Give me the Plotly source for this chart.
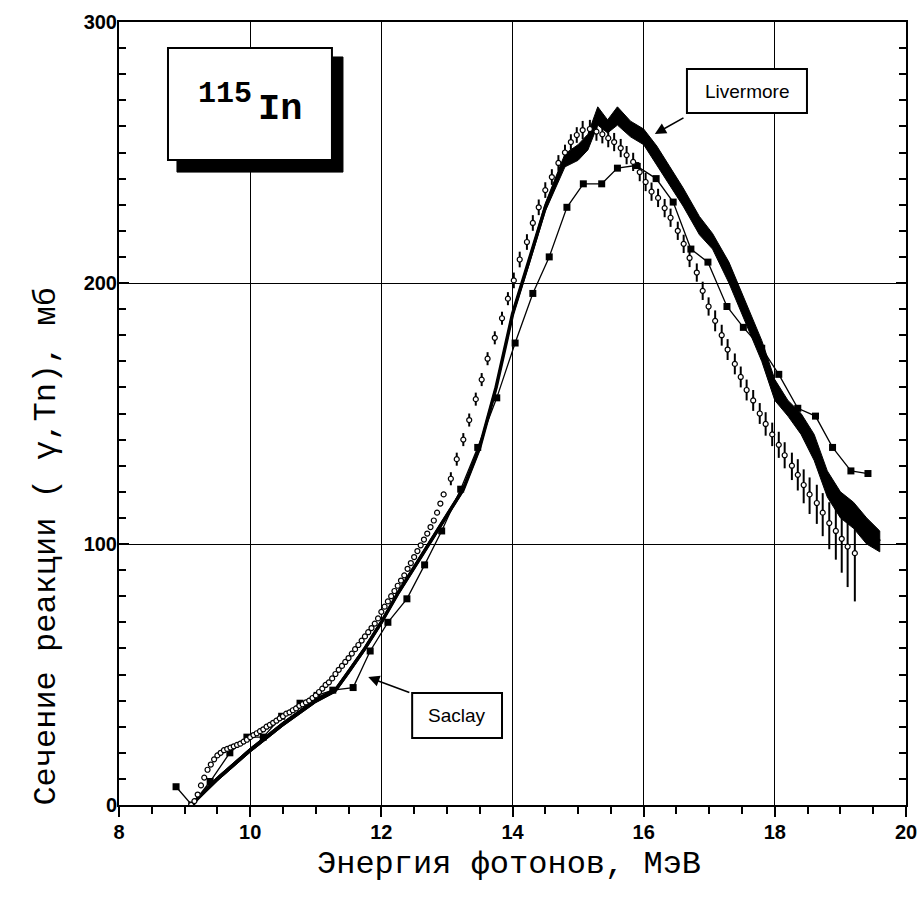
import plotly.graph_objects as go

# ---------------- data ----------------
# dense open-circle data (no visible error bars)
dense_E = [9.10, 9.15, 9.20, 9.25, 9.30, 9.35, 9.40, 9.45, 9.50, 9.55, 9.60, 9.65, 9.70, 9.75, 9.80,
           9.85, 9.90, 9.95, 10.00, 10.05, 10.10, 10.15, 10.20, 10.25, 10.30, 10.35, 10.40, 10.45,
           10.50, 10.55, 10.60, 10.65, 10.70, 10.75, 10.80, 10.85, 10.90, 10.95, 11.00, 11.05, 11.10,
           11.15, 11.20, 11.25, 11.30, 11.35, 11.40, 11.45, 11.50, 11.55, 11.60, 11.65, 11.70, 11.75,
           11.80, 11.85, 11.90, 11.95, 12.00, 12.05, 12.10, 12.15, 12.20, 12.25, 12.30, 12.35, 12.40,
           12.45, 12.50, 12.55, 12.60, 12.65, 12.70, 12.75, 12.80, 12.85, 12.90, 12.95]
dense_y = [0, 1.5, 4, 7.5, 10.5, 13.5, 15.5, 17.5, 19, 20, 21, 21.5, 22, 22.5, 23,
           23.5, 24.3, 25, 26, 26.8, 27.5, 28.3, 29, 30, 30.7, 31.5, 32.3, 33.2,
           34, 35, 35.5, 36.3, 37, 38, 38.6, 39.3, 40, 41, 42, 43.3, 44.6,
           46, 47, 48.5, 50.2, 51.8, 53.3, 54.8, 56.3, 58, 59.7, 61.3, 63, 64.6,
           66.2, 67.8, 69.5, 71.5, 74, 76, 78, 80, 82, 84, 86, 88, 90.5,
           92.7, 95, 97.3, 99.5, 101.7, 104, 106.5, 109, 112, 115.5, 119]

# open-circle data with error bars
circ_E = [13.06, 13.15, 13.25, 13.34, 13.44, 13.53, 13.62, 13.73, 13.84, 13.93, 14.02, 14.11, 14.22,
          14.31, 14.40, 14.50, 14.60, 14.70, 14.80, 14.89, 14.98, 15.07, 15.18, 15.28, 15.37, 15.46,
          15.55, 15.65, 15.74, 15.84, 15.94, 16.03, 16.12, 16.22, 16.32, 16.41, 16.52, 16.61, 16.70,
          16.81, 16.90, 16.99, 17.09, 17.19, 17.28, 17.39, 17.48, 17.57, 17.67, 17.77, 17.86, 17.96,
          18.06, 18.15, 18.26, 18.35, 18.44, 18.53, 18.64, 18.73, 18.83, 18.93, 19.02, 19.11, 19.22]
circ_y = [125, 132.5, 140, 147.5, 155.5, 163, 171, 179, 186.5, 194, 201, 209, 215.7,
          223, 229, 235.6, 240.6, 246, 250, 254, 256.7, 258.6, 259, 258, 257, 255.5,
          254, 251.7, 249, 246.4, 242.5, 238.7, 235, 232.6, 228.7, 225, 220, 215, 209.6,
          204, 197, 191, 185.5, 180, 174.5, 169, 164, 159, 155, 150, 146, 142,
          138, 134, 130, 126.5, 122.6, 119, 115.7, 112, 108, 105, 102, 99, 96.5]
circ_err_plus = [2.5, 2.5, 2.5, 2.5, 2.5, 2.5, 2.5, 2.5, 2.5, 2.5, 3, 3, 3,
                 3, 3, 3, 3, 3, 3, 3, 3, 3.5, 3.5, 3.5, 3.5, 3.5,
                 3.5, 3.5, 3.5, 3.5, 3.5, 3.5, 3.5, 3.5, 3.5, 3.5, 3.5, 3.5, 3.5,
                 3.5, 3.5, 3.5, 4, 4, 4, 4, 4, 4, 4, 4, 4.5, 4.5,
                 5, 5, 5, 6, 6, 6.5, 7, 7.5, 8, 8.5, 8, 9, 10]
circ_err_minus = [2.5, 2.5, 2.5, 2.5, 2.5, 2.5, 2.5, 2.5, 2.5, 2.5, 3, 3, 3,
                  3, 3, 3, 3, 3, 3, 3, 3, 3.5, 3.5, 3.5, 3.5, 3.5,
                  3.5, 3.5, 3.5, 3.5, 3.5, 3.5, 3.5, 3.5, 3.5, 3.5, 3.5, 3.5, 3.5,
                  3.5, 3.5, 3.5, 4, 4, 4, 4, 4, 4, 4, 4, 4.5, 4.5,
                  5, 5, 5.5, 6, 7, 7.5, 8, 9, 10, 11, 13, 15.5, 18.5]

# Saclay (filled squares)
sac_E = [8.87, 9.11, 9.39, 9.69, 9.95, 10.20, 10.48, 10.76, 11.02, 11.26, 11.57, 11.83, 12.10, 12.39,
         12.66, 12.92, 13.21, 13.47, 13.76, 14.04, 14.31, 14.56, 14.83, 15.08, 15.36, 15.60, 15.88,
         16.19, 16.45, 16.72, 16.98, 17.27, 17.52, 17.80, 18.06, 18.35, 18.62, 18.88, 19.16, 19.42]
sac_y = [7, 0, 9, 20, 26, 26, 34, 39, 42, 44, 45, 59, 70, 79,
         92, 105, 121, 137, 156, 177, 196, 210, 229, 238, 238, 244, 245,
         240, 231, 213, 208, 191, 183, 175, 165, 152, 149, 137, 128, 127]

# Livermore (band: value +/- error)
liv_E = [9.10, 9.50, 10.00, 10.50, 11.00, 11.30, 11.50, 11.75, 12.00, 12.25, 12.50, 12.75, 13.00,
         13.25, 13.50, 13.75, 14.00, 14.25, 14.50, 14.80, 15.00, 15.15, 15.30, 15.45, 15.60, 15.80,
         16.00, 16.20, 16.40, 16.60, 16.85, 17.05, 17.30, 17.55, 17.80, 18.00, 18.20, 18.40, 18.60,
         18.80, 19.00, 19.20, 19.40, 19.60]
liv_y = [0, 10, 21, 31, 40, 44, 51, 60, 70, 81, 91, 101, 111,
         121, 137, 160, 188, 208, 229, 247, 250, 254, 264, 260, 264, 259,
         256, 249, 241, 233, 222, 216, 204, 189, 174, 159, 152, 146, 137,
         123, 115, 111, 105, 101]
liv_err = [0.5, 0.8, 0.8, 0.8, 0.8, 0.8, 0.8, 0.8, 0.8, 0.8, 0.8, 0.8, 0.8,
           0.8, 1, 1, 1, 1.2, 1.5, 2.5, 3, 3, 3.5, 2.5, 3.5, 3,
           3, 3.5, 3.5, 3.5, 3.5, 3, 4, 4, 4, 4, 3, 4, 5,
           5, 5, 5, 5, 4]

x_ticks = [8, 10, 12, 14, 16, 18, 20]
y_ticks = [0, 100, 200, 300]

# ---------------- figure ----------------
fig = go.Figure()

liv_up = [v + e for v, e in zip(liv_y, liv_err)]
liv_lo = [v - e for v, e in zip(liv_y, liv_err)]
fig.add_trace(go.Scatter(x=liv_E + liv_E[::-1], y=liv_up + liv_lo[::-1], fill="toself",
                         fillcolor="black", line=dict(color="black", width=1),
                         mode="lines", hoverinfo="skip", showlegend=False))
fig.add_trace(go.Scatter(x=liv_E, y=liv_y, mode="lines", line=dict(color="black", width=3.5),
                         showlegend=False, name="Livermore"))

fig.add_trace(go.Scatter(x=sac_E, y=sac_y, mode="lines+markers", name="Saclay",
                         line=dict(color="black", width=1.3),
                         marker=dict(symbol="square", size=7, color="black"),
                         showlegend=False))

fig.add_trace(go.Scatter(x=dense_E, y=dense_y, mode="markers",
                         marker=dict(symbol="circle", size=5, color="white",
                                     line=dict(color="black", width=1.2)),
                         showlegend=False))
fig.add_trace(go.Scatter(x=circ_E, y=circ_y, mode="markers",
                         error_y=dict(type="data", symmetric=False, array=circ_err_plus,
                                      arrayminus=circ_err_minus, color="black",
                                      thickness=2, width=0),
                         marker=dict(symbol="circle", size=5, color="white",
                                     line=dict(color="black", width=1.2)),
                         showlegend=False))

shapes = [
    # 115In label box with shadow
    dict(type="rect", xref="x", yref="y", x0=8.884, x1=11.415, y0=242.5, y1=286.6,
         fillcolor="black", line=dict(color="black", width=1), layer="above"),
    dict(type="rect", xref="x", yref="y", x0=8.747, x1=11.247, y0=247.1, y1=290.0,
         fillcolor="white", line=dict(color="black", width=2), layer="above"),
    # Livermore box
    dict(type="rect", xref="x", yref="y", x0=16.66, x1=18.49, y0=265.1, y1=282.0,
         fillcolor="white", line=dict(color="black", width=2), layer="above"),
    # Saclay box
    dict(type="rect", xref="x", yref="y", x0=12.47, x1=13.84, y0=25.7, y1=42.9,
         fillcolor="white", line=dict(color="black", width=2), layer="above"),
]

annotations = [
    dict(x=9.62, y=272.5, xref="x", yref="y", text="<b>115</b>", showarrow=False,
         font=dict(family="Liberation Mono", size=30, color="black")),
    dict(x=10.46, y=266.5, xref="x", yref="y", text="<b>In</b>", showarrow=False,
         font=dict(family="Liberation Mono", size=37, color="black")),
    dict(x=17.575, y=273.5, xref="x", yref="y", text="Livermore", showarrow=False,
         font=dict(family="Liberation Sans", size=19, color="black")),
    dict(x=13.155, y=34.3, xref="x", yref="y", text="Saclay", showarrow=False,
         font=dict(family="Liberation Sans", size=19, color="black")),
    # arrows
    dict(x=16.17, y=257.1, ax=16.63, ay=263.6, xref="x", yref="y", axref="x", ayref="y",
         text="", showarrow=True, arrowhead=2, arrowsize=1.4, arrowwidth=1.6, arrowcolor="black"),
    dict(x=11.80, y=49.0, ax=12.45, ay=42.9, xref="x", yref="y", axref="x", ayref="y",
         text="", showarrow=True, arrowhead=2, arrowsize=1.4, arrowwidth=1.6, arrowcolor="black"),
    # axis titles
    dict(x=0.495, y=-0.0765, xref="paper", yref="paper", xanchor="center", yanchor="middle",
         text="Энергия фотонов, МэВ", showarrow=False,
         font=dict(family="Liberation Mono", size=32, color="black")),
    dict(x=-0.0915, y=0.33, xref="paper", yref="paper", xanchor="center", yanchor="middle",
         text="Сечение реакции ( γ,Tn), мб", showarrow=False, textangle=-90,
         font=dict(family="Liberation Mono", size=32, color="black")),
]

fig.update_layout(
    width=923, height=904,
    margin=dict(l=119, r=17, t=22, b=99, autoexpand=False),
    paper_bgcolor="white", plot_bgcolor="white",
    shapes=shapes, annotations=annotations,
    showlegend=False,
)

fig.update_xaxes(range=[8, 20], tickvals=x_ticks, ticktext=[str(v) for v in x_ticks],
                 automargin=False, ticklabeloverflow="allow",
                 showgrid=True, gridcolor="black", gridwidth=1.3,
                 showline=True, linecolor="black", linewidth=2, mirror=True,
                 ticks="outside", ticklen=10, tickwidth=2, tickcolor="black",
                 ticklabelstandoff=-2,
                 minor=dict(dtick=0.5, tick0=8, ticks="outside", ticklen=7, tickwidth=1.5,
                            tickcolor="black", showgrid=False),
                 tickfont=dict(family="Liberation Sans", size=20, color="black", weight="bold"),
                 zeroline=False)
fig.update_yaxes(range=[0, 300], tickvals=y_ticks, ticktext=[str(v) for v in y_ticks],
                 automargin=False, ticklabeloverflow="allow",
                 showgrid=True, gridcolor="black", gridwidth=1.3,
                 showline=True, linecolor="black", linewidth=2, mirror="ticks",
                 ticks="inside", ticklen=10, tickwidth=2, tickcolor="black",
                 ticklabelstandoff=-4,
                 minor=dict(dtick=10, tick0=0, ticks="inside", ticklen=7, tickwidth=1.5,
                            tickcolor="black", showgrid=False),
                 tickfont=dict(family="Liberation Sans", size=20, color="black", weight="bold"),
                 zeroline=False)

fig.write_html("out.html", config=dict(displayModeBar=False),
               post_script="document.body.style.margin='0';document.body.style.overflow='hidden';")
